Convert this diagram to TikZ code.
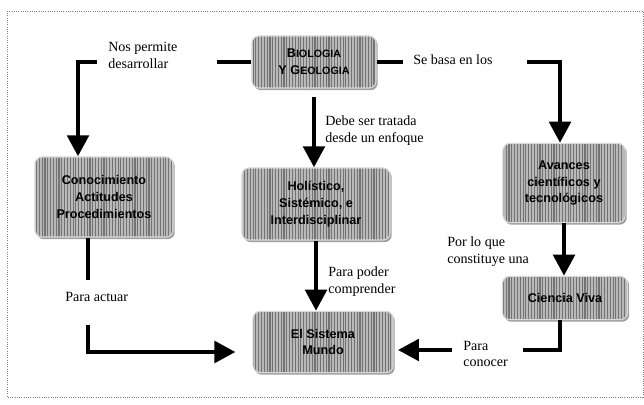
\documentclass[tikz,border=0pt]{standalone}
\usepackage{fontspec}
\setmainfont{Liberation Serif}
\newfontfamily\boxfont{Liberation Sans}
\usetikzlibrary{arrows.meta,patterns.meta,shadows}

\begin{document}
\begin{tikzpicture}[x=0.025cm,y=-0.025cm,line join=miter,
        >={Triangle[length=15pt,width=15pt]},
        tema/.style={rectangle,rounded corners=5pt,draw=gray!30,line width=0.8pt,
            drop shadow={shadow xshift=1.2pt,shadow yshift=-1.5pt,fill=gray!75,opacity=1},
            preaction={fill=gray!55},
            pattern={Lines[angle=90,distance=2pt,line width=0.8pt]},pattern color=black!55,
            align=center,font=\boxfont\bfseries\fontsize{9}{12}\selectfont},
        link/.style={line width=3.5pt},
        arr/.style={line width=3.5pt,->},
        nota/.style={anchor=west,align=left,inner sep=0pt,font=\fontsize{10}{12}\selectfont}]
        \useasboundingbox (0,0) rectangle (644,405);
        \draw [densely dotted,gray,line width=0.6pt] (7,11) rectangle (643,397);
        % cajas
        \node[tema,minimum width=3.1cm,minimum height=1.3cm] (bio) at (314,62)
            {B{\fontsize{7.6}{12}\selectfont IOLOGIA}\\Y G{\fontsize{7.6}{12}\selectfont EOLOGIA}};
        \node[tema,minimum width=3.45cm,minimum height=2cm] (con) at (104,197)
            {Conocimiento\\Actitudes\\Procedimientos};
        \node[tema,minimum width=3.7cm,minimum height=1.8cm] (hol) at (316,204)
            {Holístico,\\Sistémico, e\\Interdisciplinar};
        \node[tema,minimum width=3.05cm,minimum height=1.98cm] (ava) at (564,183)
            {Avances\\científicos y\\tecnológicos};
        \node[tema,minimum width=3.125cm,minimum height=1.08cm] (cv) at (565,298) {Ciencia Viva};
        \node[tema,minimum width=3.5cm,minimum height=1.53cm] (sm) at (323,342) {El Sistema\\Mundo};
        % textos
        \node[nota] (lnos) at (108,55) {Nos permite\\desarrollar};
        \node[nota] (lbasa) at (413,60) {Se basa en los};
        \node[nota] (ldebe) at (325,131) {Debe ser tratada\\desde un enfoque};
        \node[nota] (lpoder) at (328,282) {Para poder\\comprender};
        \node[nota] (lactuar) at (65,297) {Para actuar};
        \node[nota] (lpor) at (447,252) {Por lo que\\constituye una};
        \node[nota] (lcono) at (463,354) {Para\\conocer};
        % flechas
        \coordinate (a1) at (97,62);
        \coordinate (a2) at (78,62);
        \draw[link] (bio.west) -- ++(-34,0);
        \draw[arr] (a1) -- (a2) -- (a2 |- con.north);
        \coordinate (b1) at (527,62);
        \coordinate (b2) at (560,62);
        \draw[link] (bio.east) -- ++(26,0);
        \draw[arr] (b1) -- (b2) -- (b2 |- ava.north);
        \draw[arr,shorten <=6pt] (bio.south) -- (bio.south |- hol.north);
        \draw[arr] (hol.south) -- (hol.south |- sm.north);
        \draw[arr] (ava.south) -- (ava.south |- cv.north);
        \coordinate (d1) at (88,280);
        \coordinate (d2) at (88,325);
        \coordinate (d3) at (88,352);
        \draw[link] (d1 |- con.south) -- (d1);
        \draw[arr,shorten >=12pt] (d2) -- (d3) -- (d3 -| sm.west);
        \coordinate (e1) at (560,350);
        \coordinate (e2) at (523,350);
        \coordinate (e3) at (452,350);
        \draw[link] (e1 |- cv.south) -- (e1) -- (e2);
        \draw[arr,shorten >=3pt] (e3) -- (e3 -| sm.east);
\end{tikzpicture}
\end{document}
